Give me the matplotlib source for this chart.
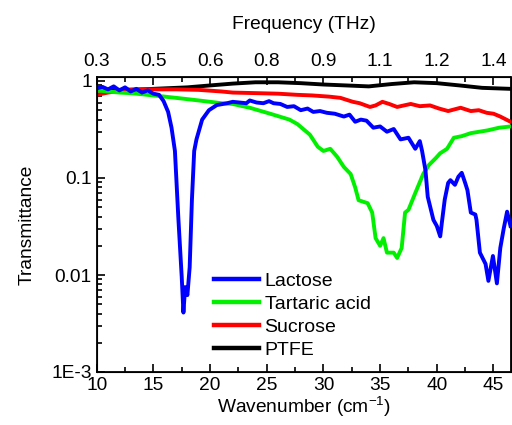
import numpy as np
import matplotlib
matplotlib.use("Agg")
import matplotlib.pyplot as plt
from matplotlib.ticker import FixedLocator, NullFormatter

plt.rcParams['font.family'] = ['Liberation Sans', 'DejaVu Sans']
plt.rcParams['mathtext.default'] = 'regular'

# Lactose (blue)
lac_x = [10.0, 10.5, 11.0, 11.5, 12.0, 12.5, 13.0, 13.5, 14.0, 14.5, 15.0, 15.5, 15.9, 16.3,
         16.6, 16.9, 17.2, 17.5, 17.65, 17.8, 18.0, 18.2, 18.4, 18.6, 18.8, 19.3, 19.9, 20.6,
         21.5, 22.0, 22.6, 23.2, 23.5, 24.1, 24.7, 25.2, 25.6, 26.2, 26.8, 27.4, 28.0, 28.6,
         29.1, 29.7, 30.3, 31.0, 31.8, 32.3, 32.8, 33.3, 33.8, 34.4, 35.0, 35.6, 36.2, 36.8,
         37.5, 38.1, 38.5, 38.7, 39.0, 39.2, 39.7, 40.0, 40.3, 40.45, 40.7, 41.0, 41.2, 41.6,
         41.9, 42.2, 42.5, 42.7, 43.0, 43.4, 43.5, 43.8, 44.3, 44.55, 44.95, 45.3, 45.6, 45.9,
         46.2, 46.5]
lac_y = [0.84, 0.87, 0.82, 0.88, 0.80, 0.86, 0.78, 0.83, 0.76, 0.80, 0.74, 0.72, 0.62, 0.48,
         0.33, 0.19, 0.039, 0.0095, 0.0041, 0.0075, 0.0062, 0.012, 0.06, 0.19, 0.25, 0.40, 0.50, 0.565,
         0.59, 0.61, 0.60, 0.59, 0.63, 0.60, 0.59, 0.62, 0.59, 0.58, 0.54, 0.55, 0.50, 0.52,
         0.48, 0.49, 0.47, 0.46, 0.43, 0.45, 0.38, 0.40, 0.39, 0.33, 0.34, 0.30, 0.32, 0.25,
         0.26, 0.20, 0.24, 0.19, 0.12, 0.064, 0.037, 0.032, 0.025, 0.035, 0.06, 0.089, 0.095, 0.085,
         0.103, 0.113, 0.089, 0.075, 0.044, 0.042, 0.037, 0.017, 0.013, 0.0087, 0.0157, 0.0082, 0.019, 0.03,
         0.045, 0.032]

# Tartaric acid (green)
tar_x = [10, 11, 12, 13, 14, 15, 16, 17, 18, 19, 20, 21, 22, 23.5, 25.3, 27.0, 27.7, 28.8,
         29.5, 30.0, 30.6, 31.2, 31.8, 32.4, 32.8, 33.1, 33.9, 34.3, 34.6, 35.0, 35.3, 35.6,
         36.2, 36.5, 36.9, 37.2, 37.5, 38.1, 38.8, 39.3, 39.9, 40.3, 40.9, 41.5, 42.2, 43.0,
         44.5, 45.5, 46.5]
tar_y = [0.80, 0.78, 0.76, 0.75, 0.73, 0.71, 0.69, 0.67, 0.65, 0.63, 0.61, 0.59, 0.58, 0.53, 0.46, 0.40, 0.36, 0.28,
         0.21, 0.19, 0.20, 0.166, 0.13, 0.11, 0.08, 0.059, 0.055, 0.044, 0.024, 0.020, 0.024, 0.017,
         0.017, 0.015, 0.019, 0.044, 0.047, 0.07, 0.11, 0.136, 0.16, 0.18, 0.20, 0.26, 0.27, 0.29,
         0.31, 0.33, 0.34]

# Sucrose (red)
suc_x = [10, 11, 12, 13, 14, 15, 17, 19, 21, 22, 24, 26, 27.7, 29, 30.5, 31.5, 32.6, 33.2,
         34.1, 34.6, 35.2, 35.8, 36.5, 37.1, 37.7, 38.5, 39.4, 40.2, 41.0, 42.1, 43.0, 43.7,
         44.4, 45.0, 45.6, 46.5]
suc_y = [0.72, 0.76, 0.79, 0.81, 0.82, 0.82, 0.82, 0.81, 0.78, 0.76, 0.75, 0.74, 0.72, 0.71, 0.69, 0.67, 0.61, 0.59,
         0.54, 0.56, 0.61, 0.58, 0.54, 0.56, 0.58, 0.55, 0.56, 0.52, 0.49, 0.53, 0.49, 0.50,
         0.47, 0.46, 0.43, 0.38]

# PTFE (black)
ptfe_x = [10, 12, 14, 16, 18, 20, 22, 24, 26, 28, 30, 32, 34, 36, 38, 40, 42, 44, 46.5]
ptfe_y = [0.80, 0.81, 0.82, 0.84, 0.86, 0.90, 0.94, 0.97, 0.97, 0.95, 0.92, 0.90, 0.88, 0.93,
          0.97, 0.95, 0.90, 0.85, 0.83]

bottom_ticks = [10, 15, 20, 25, 30, 35, 40, 45]
top_labels = ['0.3', '0.5', '0.6', '0.8', '0.9', '1.1', '1.2', '1.4']
y_ticks = [1e-3, 1e-2, 1e-1, 1]
y_labels = ['1E-3', '0.01', '0.1', '1']

fs = 13.8
fig = plt.figure(figsize=(5.12, 4.25), dpi=100)
ax = fig.add_axes([96.7/512, 53/425, (510.5-96.7)/512, (372-77)/425])

lw = 2.8
ax.plot(lac_x, lac_y, color='#0000ff', lw=lw, label='Lactose', zorder=5)
ax.plot(tar_x, tar_y, color='#00f000', lw=lw, label='Tartaric acid', zorder=4)
ax.plot(suc_x, suc_y, color='#ff0000', lw=lw, label='Sucrose', zorder=3)
ax.plot(ptfe_x, ptfe_y, color='black', lw=lw, label='PTFE', zorder=2)

ax.set_yscale('log')
ax.set_xlim(10, 46.5)
ax.set_ylim(1e-3, 10**(4/97))

ax.set_xticks(bottom_ticks)
ax.set_xticks(np.arange(12.5, 46.5, 5), minor=True)
ax.set_yticks(y_ticks)
ax.set_yticklabels(y_labels)
ax.yaxis.set_minor_locator(FixedLocator([m*10.0**e for e in range(-3, 0) for m in range(2, 10)]))
ax.yaxis.set_minor_formatter(NullFormatter())

ax.tick_params(which='both', direction='in', width=1.2, labelsize=fs)
ax.tick_params(which='major', length=6)
ax.tick_params(which='minor', length=3.5)
ax.tick_params(axis='x', which='both', top=False)
for s in ax.spines.values():
    s.set_linewidth(1.3)

ax.set_xlabel('Wavenumber (cm$^{-1}$)', fontsize=fs, labelpad=1)
ax.set_ylabel('Transmittance', fontsize=fs, labelpad=11)

# top frequency axis
ax2 = ax.twiny()
ax2.set_xlim(ax.get_xlim())
ax2.set_xticks(bottom_ticks)
ax2.set_xticklabels(top_labels)
ax2.set_xticks(np.arange(12.5, 46.5, 5), minor=True)
ax2.tick_params(which='both', direction='in', width=1.2, labelsize=fs, pad=5)
ax2.tick_params(which='major', length=6)
ax2.tick_params(which='minor', length=3.5)
ax2.set_xlabel('Frequency (THz)', fontsize=fs, labelpad=17)

leg = ax.legend(loc='lower left', bbox_to_anchor=(0.418, 0.155), bbox_transform=fig.transFigure,
                frameon=False, fontsize=14, handlelength=2.3, handletextpad=0.3,
                labelspacing=0.28, borderpad=0, borderaxespad=0)
for h in leg.get_lines():
    h.set_linewidth(3.2)

fig.savefig('out.png', dpi=100)
